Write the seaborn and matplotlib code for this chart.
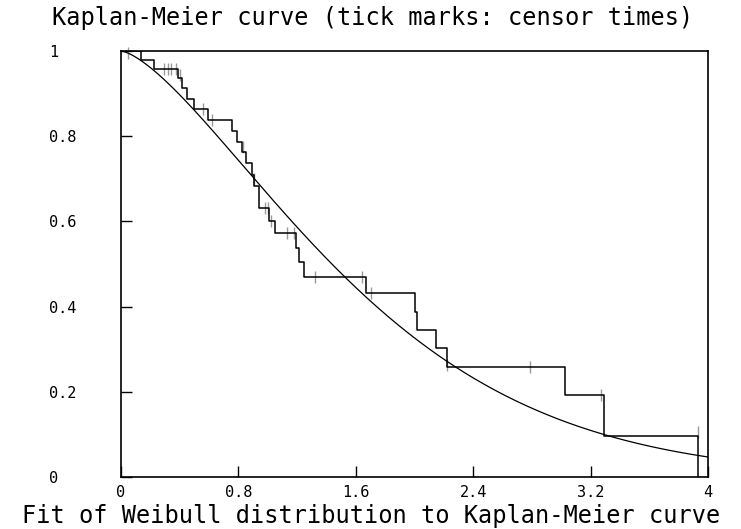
import numpy as np
import pandas as pd
import matplotlib
matplotlib.use("Agg")
import matplotlib.pyplot as plt
import seaborn as sns

# Kaplan-Meier steps: time of each drop and survival after it
event_times = [0.137, 0.228, 0.387, 0.414, 0.448, 0.498, 0.592, 0.758, 0.789,
               0.825, 0.850, 0.893, 0.905, 0.937, 1.011, 1.046, 1.191, 1.210,
               1.247, 1.672, 2.002, 2.014, 2.146, 2.218, 3.024, 3.293, 3.930]
survival = [0.980, 0.958, 0.936, 0.912, 0.887, 0.863, 0.837, 0.812, 0.787,
            0.762, 0.736, 0.708, 0.683, 0.632, 0.602, 0.572, 0.537, 0.504,
            0.469, 0.432, 0.388, 0.345, 0.302, 0.258, 0.193, 0.096, 0.0]

# censor times and survival level there
censor_times = [0.05, 0.296, 0.318, 0.340, 0.378, 0.400, 0.558, 0.619, 0.828,
                0.908, 0.978, 0.999, 1.020, 1.131, 1.181, 1.320, 1.643, 1.702,
                2.220, 2.787, 3.270, 3.930]
censor_surv = [0.995, 0.958, 0.958, 0.958, 0.958, 0.944, 0.863, 0.837, 0.775,
               0.700, 0.632, 0.632, 0.602, 0.572, 0.572, 0.469, 0.469, 0.432,
               0.262, 0.258, 0.193, 0.105]

# fitted Weibull parameters
weibull_shape = 1.45
weibull_scale = 1.85

x_ticks = [0, 0.8, 1.6, 2.4, 3.2, 4]
x_labels = ["0", "0.8", "1.6", "2.4", "3.2", "4"]
y_ticks = [0, 0.2, 0.4, 0.6, 0.8, 1]
y_labels = ["0", "0.2", "0.4", "0.6", "0.8", "1"]

km = pd.DataFrame({"t": [0.0] + event_times, "S": [1.0] + survival})
cens = pd.DataFrame({"t": censor_times, "S": censor_surv})
tt = np.linspace(0, 4, 400)
fit = pd.DataFrame({"t": tt, "S": np.exp(-(tt / weibull_scale) ** weibull_shape)})

sns.set_style("white")
plt.rcParams["font.family"] = ["DejaVu Sans Mono", "DejaVu Sans"]

fig = plt.figure(figsize=(7.41, 5.29), dpi=100)
ax = fig.add_axes([0.1633, 0.0983, 0.7922, 0.8053])

sns.scatterplot(data=cens, x="t", y="S", marker="|", s=80, color="#9a9a9a",
                linewidth=1.0, ax=ax, zorder=2, clip_on=False)
sns.lineplot(data=km, x="t", y="S", drawstyle="steps-post", color="black",
             linewidth=1.1, estimator=None, sort=False, ax=ax, zorder=3)
sns.lineplot(data=fit, x="t", y="S", color="black", linewidth=0.9,
             estimator=None, sort=False, ax=ax, zorder=3)

ax.set_xlim(0, 4)
ax.set_ylim(0, 1)
ax.set_xticks(x_ticks)
ax.set_xticklabels(x_labels)
ax.set_yticks(y_ticks)
ax.set_yticklabels(y_labels)
ax.set_xlabel("")
ax.set_ylabel("")

for s in ax.spines.values():
    s.set_visible(True)
    s.set_color("black")
    s.set_linewidth(1.2)

ax.tick_params(axis="both", direction="in", length=8, width=1, colors="black",
               labelsize=11, top=False, right=False, bottom=True, left=True)
ax.tick_params(axis="x", pad=6)
ax.tick_params(axis="y", pad=52)
for lab in ax.get_yticklabels():
    lab.set_horizontalalignment("left")

fig.text(0.503, 0.966, "Kaplan-Meier curve (tick marks: censor times)",
         ha="center", va="center", fontsize=17, color="black")
fig.text(0.501, 0.024, "Fit of Weibull distribution to Kaplan-Meier curve",
         ha="center", va="center", fontsize=17, color="black")

fig.savefig("out.png", dpi=100)
